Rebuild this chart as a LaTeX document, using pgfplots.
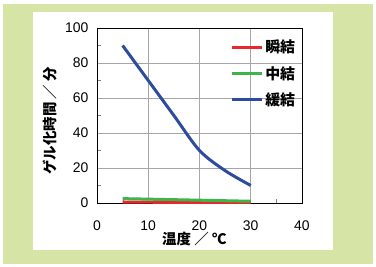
\documentclass[border=0pt]{standalone}
\usepackage{fontspec}
\setmainfont{Liberation Sans}
\newfontfamily\jp{Noto Sans CJK JP}
\usepackage{pgfplots}
\pgfplotsset{compat=1.18}
\definecolor{bggreen}{RGB}{214,228,166}
\definecolor{cred}{RGB}{232,38,43}
\definecolor{cgreen}{RGB}{61,181,74}
\definecolor{cblue}{RGB}{46,76,158}
\begin{document}
\begin{tikzpicture}[x=1bp,y=1bp]
\fill[white] (-97,-64) rectangle (279,203);
\fill[bggreen] (-94,-61) rectangle (276,199);
\fill[white] (-64,-47) rectangle (236,191);
\begin{axis}[
  at={(0,0)}, anchor=south west,
  scale only axis, width=205bp, height=175bp,
  xmin=0, xmax=40, ymin=0, ymax=100,
  xtick={0,10,20,30,40}, ytick={0,20,40,60,80,100},
  minor x tick num=1, minor y tick num=1,
  xtick pos=bottom, ytick pos=left,
  tick align=inside,
  major tick length=0pt, minor tick length=4bp,
  grid=major, major grid style={gray!70, line width=0.8pt},
  axis line style={black, line width=0.9pt},
  /pgf/number format/assume math mode=true,
  tick label style={font=\fontsize{14}{14}\selectfont},
  xticklabel style={yshift=-14bp},
  yticklabel style={xshift=-5bp},
  xlabel={\jp\bfseries 温度 ／ ℃},
  ylabel={\jp\bfseries ゲル化時間 ／ 分},
  label style={font=\fontsize{14.5}{14.5}\selectfont},
  xlabel style={at={(axis description cs:0.475,-0.205)}, anchor=center},
  ylabel style={at={(axis description cs:-0.229,0.47)}, anchor=center},
  legend style={draw=none, fill=none, at={(0.975,0.94)}, anchor=north east,
    font=\jp\bfseries\fontsize{15}{15}\selectfont, row sep=9bp, inner sep=0pt,
    nodes={inner sep=1.5bp}},
  legend cell align=left,
  legend image code/.code={\draw[#1, line width=3bp] (0bp,0bp) -- (30bp,0bp);},
]
\addplot[cred, line width=3bp] coordinates {(5,0.5) (30,0.2)};
\addlegendentry{瞬結}
\addplot[cgreen, line width=3bp] coordinates {(5,2.5) (30,1.0)};
\addlegendentry{中結}
\addplot[cblue, line width=3bp, smooth] coordinates {(5,90) (10,70) (15,50) (20,30) (25,18.5) (30,10)};
\addlegendentry{緩結}
\end{axis}
\end{tikzpicture}
\end{document}
